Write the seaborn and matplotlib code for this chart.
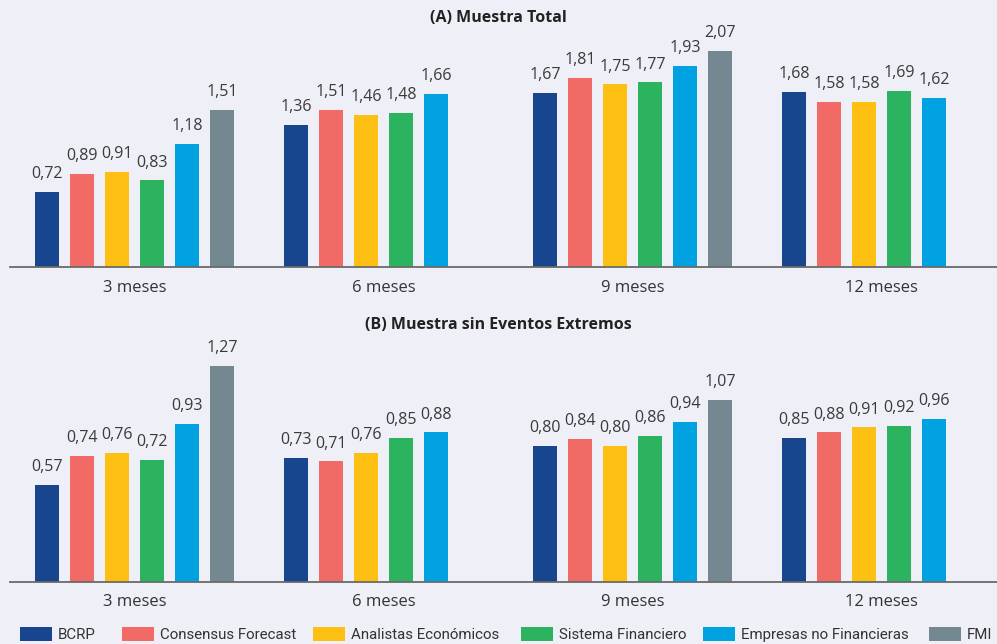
import matplotlib
matplotlib.use("Agg")
import matplotlib.pyplot as plt
from matplotlib.patches import Patch
import seaborn as sns
import pandas as pd
import numpy as np

# ---- data ----
horizontes = ["3 meses", "6 meses", "9 meses", "12 meses"]
fuentes = ["BCRP", "Consensus Forecast", "Analistas Económicos",
           "Sistema Financiero", "Empresas no Financieras", "FMI"]
colores = ["#17468F", "#F26A66", "#FDC012", "#2BB35F", "#00A2E1", "#748891"]

# Panel A: Muestra Total (rows = fuentes, cols = horizontes)
total_bcrp = [0.72, 1.36, 1.67, 1.68]
total_consensus = [0.89, 1.51, 1.81, 1.58]
total_analistas = [0.91, 1.46, 1.75, 1.58]
total_sistema = [0.83, 1.48, 1.77, 1.69]
total_empresas = [1.18, 1.66, 1.93, 1.62]
total_fmi = [1.51, np.nan, 2.07, np.nan]

# Panel B: Muestra sin Eventos Extremos
sin_bcrp = [0.57, 0.73, 0.80, 0.85]
sin_consensus = [0.74, 0.71, 0.84, 0.88]
sin_analistas = [0.76, 0.76, 0.80, 0.91]
sin_sistema = [0.72, 0.85, 0.86, 0.92]
sin_empresas = [0.93, 0.88, 0.94, 0.96]
sin_fmi = [1.27, np.nan, 1.07, np.nan]

titulos = ["(A) Muestra Total", "(B) Muestra sin Eventos Extremos"]


def long_df(series):
    rows = []
    for f, vals in zip(fuentes, series):
        for h, v in zip(horizontes, vals):
            rows.append({"Horizonte": h, "Fuente": f, "Valor": v})
    return pd.DataFrame(rows)


df_a = long_df([total_bcrp, total_consensus, total_analistas,
                total_sistema, total_empresas, total_fmi])
df_b = long_df([sin_bcrp, sin_consensus, sin_analistas,
                sin_sistema, sin_empresas, sin_fmi])

# ---- style ----
BG = "#EEEFF7"
sns.set_theme(style="white")
plt.rcParams["font.family"] = ["Open Sans", "DejaVu Sans"]

W, H = 997, 644
fig = plt.figure(figsize=(W / 100, H / 100), dpi=100, facecolor=BG)


def fx(px):
    return px / W


def fy(py):
    return 1 - py / H


# axes: [left, bottom, width, height]
ax_a = fig.add_axes([fx(10), fy(267), fx(996), (267 - 30) / H])
ax_b = fig.add_axes([fx(10), fy(582), fx(996), (582 - 340) / H])
ylims = [237 / 104.3, 242 / 170.0]

for ax, df, ymax in zip([ax_a, ax_b], [df_a, df_b], ylims):
    ax.set_facecolor(BG)
    sns.barplot(data=df, x="Horizonte", y="Valor", hue="Fuente",
                order=horizontes, hue_order=fuentes, palette=colores,
                width=0.843, gap=0.34, errorbar=None, legend=False,
                saturation=1, linewidth=0, edgecolor="none", ax=ax)
    for cont in ax.containers:
        labels = [f"{v:.2f}".replace(".", ",") for v in cont.datavalues]
        ax.bar_label(cont, labels=labels, padding=7, fontsize=11.5,
                     color="#3A3A3A")
    ax.set_xlim(-0.5, 3.5)
    ax.set_ylim(0, ymax)
    ax.set_xlabel("")
    ax.set_ylabel("")
    ax.set_yticks([])
    for s in ["top", "right", "left"]:
        ax.spines[s].set_visible(False)
    ax.spines["bottom"].set_color("#6A6A6A")
    ax.spines["bottom"].set_linewidth(1.3)
    ax.tick_params(axis="x", which="major", length=0, pad=9,
                   labelsize=12, labelcolor="#333333")
    ax.set_xticks([-0.5, 0.5, 1.5, 2.5], minor=True)
    ax.tick_params(axis="x", which="minor", length=2, width=1.5,
                   color="#444444", direction="out")

fig.text(0.5, fy(18), titulos[0], ha="center", va="center",
         fontsize=11.5, fontweight="bold", color="#222222")
fig.text(0.5, fy(325), titulos[1], ha="center", va="center",
         fontsize=11.5, fontweight="bold", color="#222222")

# legend entries, each placed at its own x position
leg_x = [20, 122, 313, 521, 703, 929]
for f, c, x in zip(fuentes, colores, leg_x):
    lg = fig.legend(handles=[Patch(facecolor=c, edgecolor="none")],
                    labels=[f], loc="center left",
                    bbox_to_anchor=(fx(x), fy(634.5)),
                    frameon=False, borderpad=0, borderaxespad=0,
                    handlelength=2.13, handleheight=1.0,
                    handletextpad=0.4,
                    prop={"family": ["Roboto", "DejaVu Sans"],
                          "size": 10.8})
    for t in lg.get_texts():
        t.set_color("#333333")

fig.savefig("out.png", dpi=100, facecolor=BG)
